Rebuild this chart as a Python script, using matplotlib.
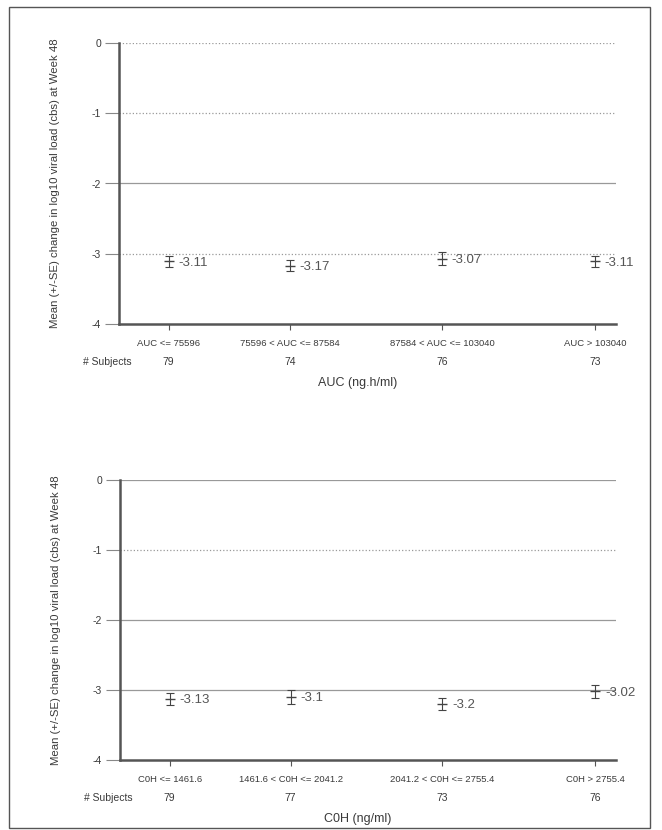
import matplotlib
matplotlib.use("Agg")
import matplotlib.pyplot as plt
from matplotlib.patches import Rectangle
import matplotlib.transforms as mtransforms

plt.rcParams['font.family'] = ['Liberation Sans', 'DejaVu Sans']

# ---- data ----
auc_categories = ["AUC <= 75596", "75596 < AUC <= 87584", "87584 < AUC <= 103040", "AUC > 103040"]
auc_means = [-3.11, -3.17, -3.07, -3.11]
auc_se = [0.08, 0.08, 0.09, 0.08]
auc_subjects = [79, 74, 76, 73]

c0h_categories = ["C0H <= 1461.6", "1461.6 < C0H <= 2041.2", "2041.2 < C0H <= 2755.4", "C0H > 2755.4"]
c0h_means = [-3.13, -3.1, -3.2, -3.02]
c0h_se = [0.09, 0.1, 0.09, 0.09]
c0h_subjects = [79, 77, 73, 76]

y_ticks = [0, -1, -2, -3, -4]
ylabel = "Mean (+/-SE) change in log10 viral load (cbs) at Week 48"

# layout (category positions along the axis, fraction of width)
xpos = [0.10, 0.344, 0.65, 0.958]

W, H = 662, 830
fig = plt.figure(figsize=(W / 100, H / 100), dpi=100)
fig.patches.append(Rectangle((9 / W, 1 - 828 / H), (650 - 9) / W, (828 - 7) / H,
                             transform=fig.transFigure, fill=False,
                             edgecolor='#555555', linewidth=1.0))

TXT = '#3a3a3a'
AXC = '#555555'


def panel(rect, cats, means, ses, subjects, xlabel, gridstyles):
    ax = fig.add_axes(rect)
    ax.set_xlim(0, 1)
    ax.set_ylim(-4, 0)
    for yv, ls in zip(y_ticks[:-1], gridstyles):
        ax.axhline(yv, color='#999999', linewidth=0.9, linestyle=ls, zorder=1)
    ax.errorbar(xpos, means, yerr=ses, fmt='_', color='#444444', ecolor='#444444',
                elinewidth=0.8, capsize=3, capthick=0.8, markersize=7, zorder=3)
    for x, m in zip(xpos, means):
        ax.annotate(f"{m:g}", (x, m), xytext=(7, -1), textcoords='offset points',
                    ha='left', va='center', fontsize=9.5, color='#555555')
    for s in ['top', 'right']:
        ax.spines[s].set_visible(False)
    for s in ['left', 'bottom']:
        ax.spines[s].set_color(AXC)
        ax.spines[s].set_linewidth(1.8)
    ax.set_yticks(y_ticks)
    ax.set_yticklabels([str(v) for v in y_ticks], fontsize=7.5, color=TXT)
    ax.tick_params(axis='y', length=10, width=0.8, color='#888888', pad=3)
    ax.set_xticks(xpos)
    ax.set_xticklabels([])
    ax.tick_params(axis='x', length=4, width=0.8, color=AXC)
    trans = mtransforms.blended_transform_factory(ax.transData, ax.transAxes)
    for x, c, n in zip(xpos, cats, subjects):
        ax.text(x, -0.068, c, transform=trans, ha='center', va='center', fontsize=6.8, color=TXT)
        ax.text(x, -0.135, str(n), transform=trans, ha='center', va='center', fontsize=7.5, color=TXT)
    ax.text(-0.072, -0.135, "# Subjects", transform=ax.transAxes, ha='left', va='center',
            fontsize=7.5, color=TXT)
    ax.text(0.48, -0.21, xlabel, transform=ax.transAxes, ha='center', va='center',
            fontsize=9, color=TXT)
    ax.set_ylabel(ylabel, fontsize=8.2, color=TXT)
    ax.yaxis.set_label_coords(-0.119, 0.5)
    return ax


panel([119 / W, 1 - 324 / H, 497 / W, 281 / H], auc_categories, auc_means, auc_se,
      auc_subjects, "AUC (ng.h/ml)", [':', ':', '-', ':'])
panel([120 / W, 1 - 760 / H, 496 / W, 280 / H], c0h_categories, c0h_means, c0h_se,
      c0h_subjects, "C0H (ng/ml)", ['-', ':', '-', '-'])

fig.savefig("out.png", dpi=100)
